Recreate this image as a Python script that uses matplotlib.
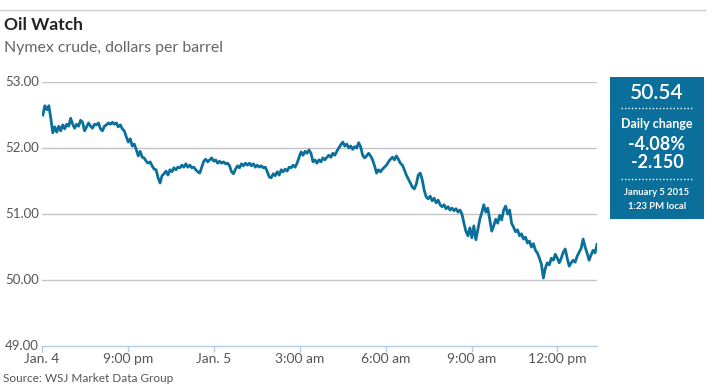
import numpy as np
import matplotlib.pyplot as plt
from matplotlib.patches import Rectangle
from matplotlib.lines import Line2D
from matplotlib.transforms import blended_transform_factory

plt.rcParams['font.family'] = ['Lato', 'DejaVu Sans']

# Nymex crude, session from Jan. 4 6:00 pm (hour 0) to Jan. 5 1:23 pm
prices = [
    52.50, 52.64, 52.58, 52.64, 52.45, 52.23, 52.32, 52.24, 52.33, 52.26,
    52.35, 52.29, 52.36, 52.33, 52.45, 52.36, 52.30, 52.36, 52.33, 52.42,
    52.39, 52.26, 52.32, 52.38, 52.33, 52.30, 52.36, 52.35, 52.38, 52.29,
    52.26, 52.33, 52.35, 52.38, 52.36, 52.39, 52.36, 52.38, 52.32, 52.35,
    52.29, 52.26, 52.17, 52.09, 52.14, 52.03, 52.06, 51.98, 51.88, 51.95,
    51.86, 51.85, 51.80, 51.77, 51.79, 51.73, 51.68, 51.67, 51.55, 51.47,
    51.58, 51.61, 51.65, 51.59, 51.67, 51.64, 51.70, 51.67, 51.71, 51.70,
    51.74, 51.71, 51.76, 51.71, 51.74, 51.70, 51.71, 51.67, 51.64, 51.62,
    51.71, 51.80, 51.83, 51.79, 51.82, 51.85, 51.80, 51.82, 51.77, 51.80,
    51.77, 51.79, 51.76, 51.77, 51.73, 51.64, 51.61, 51.68, 51.73, 51.70,
    51.76, 51.73, 51.77, 51.74, 51.77, 51.73, 51.76, 51.71, 51.74, 51.71,
    51.73, 51.70, 51.71, 51.64, 51.56, 51.55, 51.61, 51.58, 51.64, 51.59,
    51.67, 51.64, 51.68, 51.65, 51.71, 51.70, 51.74, 51.71, 51.77, 51.86,
    51.94, 51.89, 51.95, 51.92, 51.97, 51.92, 51.79, 51.82, 51.77, 51.82,
    51.79, 51.85, 51.82, 51.86, 51.89, 51.86, 51.92, 51.89, 51.95, 52.00,
    52.05, 52.09, 52.03, 52.06, 52.00, 52.03, 51.98, 52.02, 52.00, 52.08,
    52.02, 51.89, 51.85, 51.88, 51.92, 51.88, 51.82, 51.73, 51.62, 51.67,
    51.64, 51.68, 51.71, 51.74, 51.79, 51.83, 51.86, 51.82, 51.88, 51.83,
    51.77, 51.74, 51.67, 51.59, 51.53, 51.47, 51.41, 51.38, 51.45, 51.59,
    51.62, 51.52, 51.36, 51.26, 51.23, 51.27, 51.20, 51.24, 51.17, 51.21,
    51.14, 51.11, 51.14, 51.08, 51.11, 51.06, 51.09, 51.05, 51.08, 51.03,
    51.06, 51.00, 50.86, 50.74, 50.67, 50.79, 50.64, 50.82, 50.61, 50.76,
    50.92, 51.02, 51.14, 51.03, 51.09, 50.91, 50.74, 50.82, 50.92, 50.86,
    50.98, 50.91, 51.06, 51.12, 51.00, 51.06, 50.86, 50.80, 50.73, 50.76,
    50.67, 50.70, 50.62, 50.65, 50.56, 50.59, 50.50, 50.55, 50.45, 50.41,
    50.33, 50.24, 50.03, 50.18, 50.26, 50.23, 50.33, 50.30, 50.39, 50.33,
    50.26, 50.33, 50.42, 50.47, 50.33, 50.21, 50.26, 50.30, 50.27, 50.36,
    50.42, 50.48, 50.62, 50.50, 50.41, 50.30, 50.38, 50.45, 50.41, 50.54,
]
hours = np.linspace(0.03, 19.38, len(prices))

tick_hours = [0, 3, 6, 9, 12, 15, 18]
tick_labels = ['Jan. 4', '9:00 pm', 'Jan. 5', '3:00 am', '6:00 am', '9:00 am', '12:00 pm']
y_ticks = [49, 50, 51, 52, 53]

last_price = '50.54'
pct_change = '-4.08%'
abs_change = '-2.150'
stamp_date = 'January 5 2015'
stamp_time = '1:23 PM local'

blue = '#0b6f9b'
W, H = 725, 385

fig = plt.figure(figsize=(W / 100, H / 100), dpi=100)

def fx(px):
    return px / W

def fy(py):
    return 1 - py / H

ax = fig.add_axes([fx(42), fy(346), fx(597) - fx(42), fy(82) - fy(346)])
ax.set_xlim(0, 19.38)
ax.set_ylim(49, 53)

for v in y_ticks[1:]:
    ax.axhline(v, color='#c4c4c4', lw=1.0, zorder=1)

ax.plot(hours, prices, color=blue, lw=2.0, zorder=3)

for s in ['top', 'right', 'left']:
    ax.spines[s].set_visible(False)
ax.spines['bottom'].set_color('#b5cde0')
ax.spines['bottom'].set_linewidth(1.0)

ax.set_yticks([])
ax.set_xticks(tick_hours)
ax.set_xticklabels(tick_labels, fontsize=10, color='#555555')
ax.tick_params(axis='x', length=4, width=1, color='#b5cde0', pad=1)

ylab_tr = blended_transform_factory(fig.transFigure, ax.transData)
for v in y_ticks:
    ax.text(fx(5), v, f'{v:.2f}', transform=ylab_tr,
            fontsize=9.5, color='#555555', ha='left', va='center')

# header
fig.add_artist(Line2D([0, fx(705)], [fy(10), fy(10)], color='#d0d0d0', lw=1))
fig.text(fx(4), fy(25), 'Oil Watch', fontsize=12.5, fontweight='bold', color='#222222', va='center')
fig.text(fx(4), fy(48), 'Nymex crude, dollars per barrel', fontsize=11.4, color='#666666', va='center')
fig.text(fx(3), fy(379), 'Source: WSJ Market Data Group', fontsize=8.5, color='#555555', va='center')

# last-value box
fig.add_artist(Rectangle((fx(610), fy(219)), fx(704) - fx(610), fy(77) - fy(219),
                         transform=fig.transFigure, facecolor=blue, edgecolor='none'))
cx = fx(657)
fig.text(cx, fy(93), last_price, fontsize=15, color='white', ha='center', va='center', fontweight='semibold')
for yy in [108, 179]:
    fig.add_artist(Line2D([fx(621), fx(694)], [fy(yy), fy(yy)], color='white', lw=1, ls=(0, (1, 1.5))))
fig.text(cx, fy(124), 'Daily change', fontsize=9, color='white', ha='center', va='center', fontweight='bold')
fig.text(cx, fy(144), pct_change, fontsize=13, color='white', ha='center', va='center', fontweight='bold')
fig.text(cx, fy(163), abs_change, fontsize=13, color='white', ha='center', va='center', fontweight='bold')
fig.text(cx, fy(193), stamp_date, fontsize=6.8, color='white', ha='center', va='center', fontweight='bold')
fig.text(cx, fy(207), stamp_time, fontsize=6.8, color='white', ha='center', va='center', fontweight='bold')

fig.savefig('out.png', dpi=100, facecolor='white')
